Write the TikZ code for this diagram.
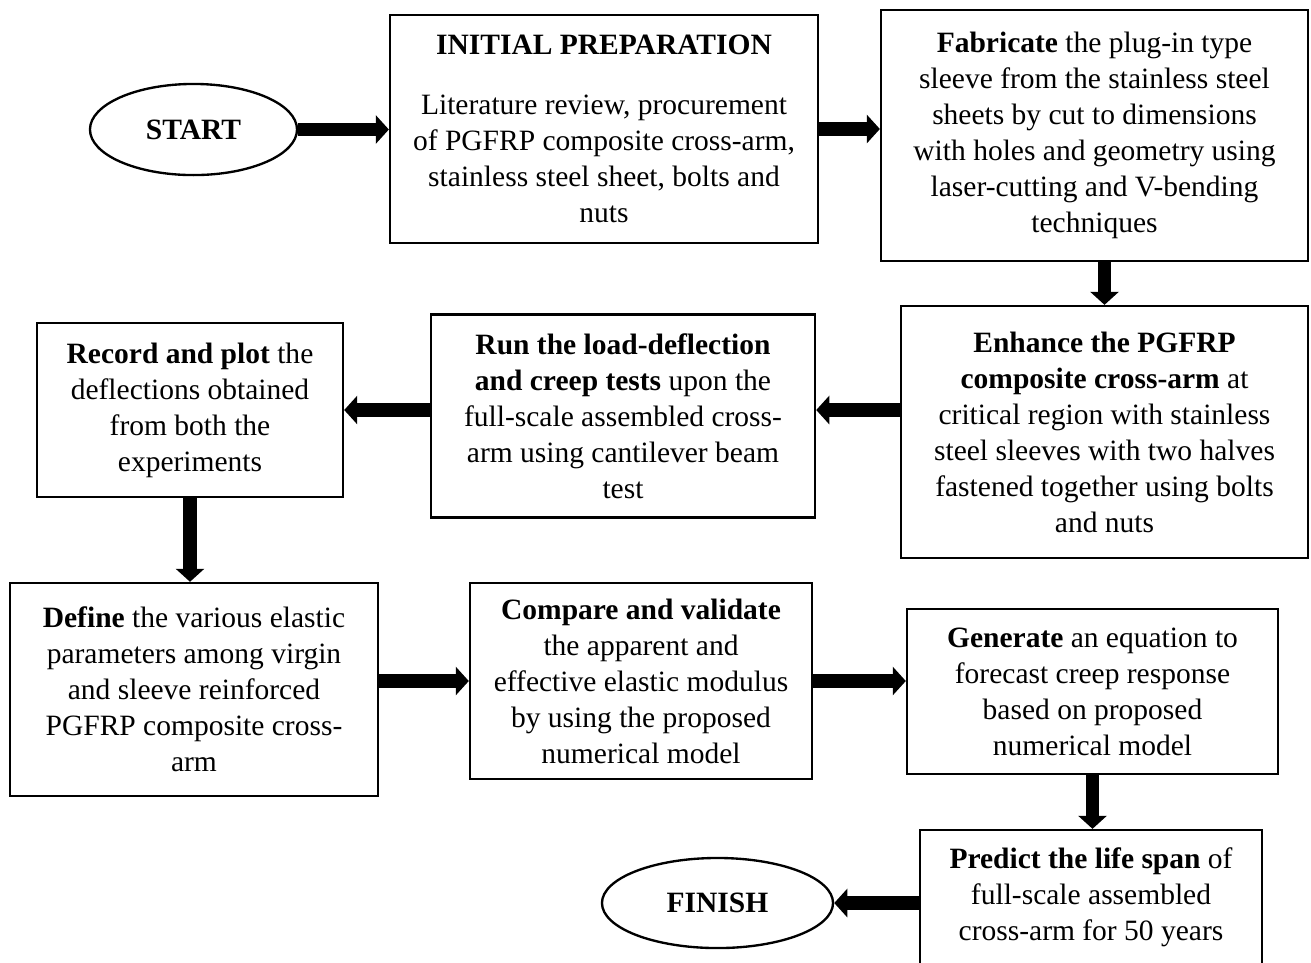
\documentclass[tikz,border=0pt]{standalone}
\usepackage{fontspec}
\setmainfont{Liberation Serif}
\usepackage{tikz}
\usetikzlibrary{shapes.geometric,arrows.meta}

\begin{document}
\begin{tikzpicture}[
    x=0.383pt, y=-0.383pt,
    box/.style={rectangle, draw=black, line width=0.9pt, align=center, inner sep=2pt, font=\fontsize{11.3}{13.8}\selectfont},
    oval/.style={ellipse, draw=black, line width=0.9pt, inner sep=0pt, font=\fontsize{11.3}{13.8}\selectfont\bfseries},
    arrow/.style={-{Triangle[width=10.7pt,length=5pt]}, line width=5pt, draw=black}
]
\useasboundingbox (0,0) rectangle (1311,962);
\clip (0,0) rectangle (1311,962);

% ROW 1: start and preparation
\node[oval, minimum width=79.3pt, minimum height=34.9pt] (start) at (193.5,129.5) {START};
\node[box, minimum width=163.9pt, minimum height=87.3pt] (prep) at (604,129) {\textbf{INITIAL PREPARATION}\\[9pt]Literature review, procurement\\of PGFRP composite cross-arm,\\stainless steel sheet, bolts and\\nuts};
\node[box, minimum width=163.5pt, minimum height=96.1pt] (fab) at (1094.5,135.5) {\textbf{Fabricate} the plug-in type\\sleeve from the stainless steel\\sheets by cut to dimensions\\with holes and geometry using\\laser-cutting and V-bending\\techniques};

% ROW 2: sleeve, tests and records
\node[box, minimum width=155.9pt, minimum height=96.5pt] (enh) at (1104.5,432) {\textbf{Enhance the PGFRP}\\\textbf{composite cross-arm} at\\critical region with stainless\\steel sleeves with two halves\\fastened together using bolts\\and nuts};
\node[box, minimum width=147.1pt, minimum height=77.7pt] (run) at (623,416) {\textbf{Run the load-deflection}\\\textbf{and creep tests} upon the\\full-scale assembled cross-\\arm using cantilever beam\\test};
\node[box, minimum width=117.2pt, minimum height=66.6pt] (rec) at (190,410) {\textbf{Record and plot} the\\deflections obtained\\from both the\\experiments};

% ROW 3: analysis
\node[box, minimum width=140.9pt, minimum height=81.6pt] (def) at (194,689.5) {\textbf{Define} the various elastic\\parameters among virgin\\and sleeve reinforced\\PGFRP composite cross-\\arm};
\node[box, minimum width=131pt, minimum height=75.1pt] (cmp) at (641,681) {\textbf{Compare and validate}\\the apparent and\\effective elastic modulus\\by using the proposed\\numerical model};
\node[box, minimum width=142.1pt, minimum height=63.2pt] (gen) at (1092.5,691.5) {\textbf{Generate} an equation to\\forecast creep response\\based on proposed\\numerical model};

% ROW 4: prediction and finish
\node[box, minimum width=131pt, minimum height=51.7pt] (pred) at (1091,897.5) {\textbf{Predict the life span} of\\full-scale assembled\\cross-arm for 50 years};
\node[oval, minimum width=88.5pt, minimum height=34.5pt] (finish) at (717.5,903) {FINISH};

\draw[arrow] (start.east) -- (start.east -| prep.west);
\draw[arrow] (prep.east) -- (prep.east -| fab.west);
\draw[arrow] (fab.south -| enh.north) -- (enh.north);
\draw[arrow] (enh.west |- rec) -- (run.east |- rec);
\draw[arrow] (run.west |- rec) -- (rec.east);
\draw[arrow] (rec.south) -- (rec.south |- def.north);
\draw[arrow] (def.east |- cmp) -- (cmp.west);
\draw[arrow] (cmp.east) -- (cmp.east -| gen.west);
\draw[arrow] (gen.south) -- (gen.south |- pred.north);
\draw[arrow] (pred.west |- finish) -- (finish.east);

\end{tikzpicture}
\end{document}
